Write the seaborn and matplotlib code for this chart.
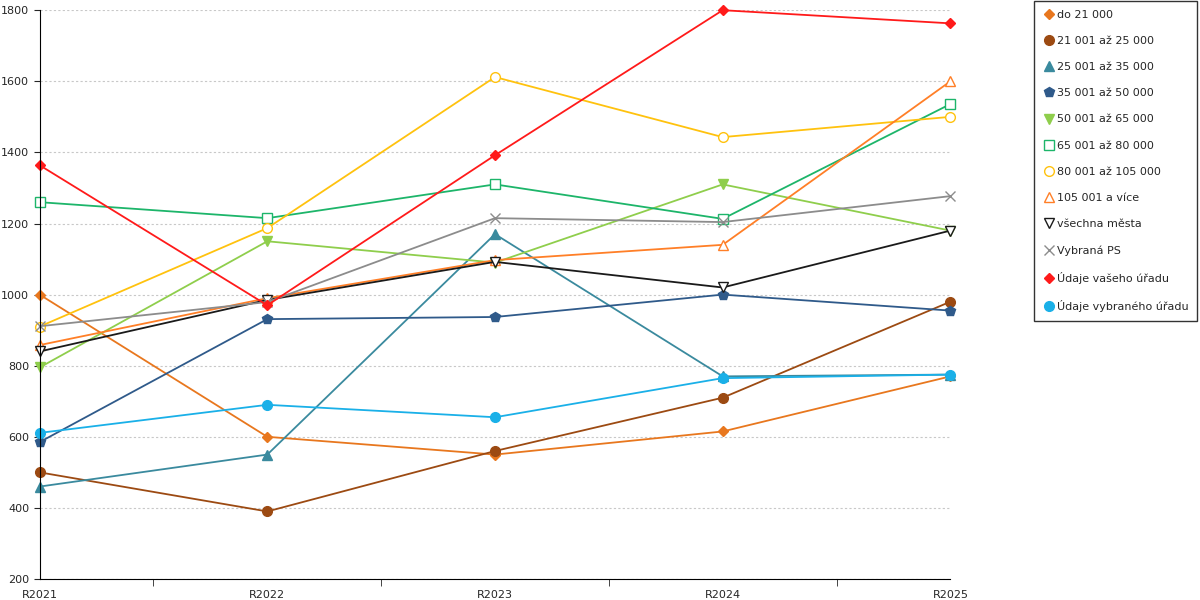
import matplotlib
matplotlib.use("Agg")
import matplotlib.pyplot as plt
import seaborn as sns
import pandas as pd
from matplotlib.lines import Line2D

years = ["R2021", "R2022", "R2023", "R2024", "R2025"]
names = ["do 21 000", "21 001 až 25 000", "25 001 až 35 000", "35 001 až 50 000",
         "50 001 až 65 000", "65 001 až 80 000", "80 001 až 105 000", "105 001 a více",
         "všechna města", "Vybraná PS", "Údaje vašeho úřadu", "Údaje vybraného úřadu"]
v_do21 = [1000, 600, 550, 615, 770]
v_21_25 = [500, 390, 560, 710, 980]
v_25_35 = [460, 550, 1170, 770, 775]
v_35_50 = [585, 931, 937, 1000, 955]
v_50_65 = [795, 1150, 1090, 1310, 1180]
v_65_80 = [1260, 1215, 1310, 1213, 1536]
v_80_105 = [910, 1187, 1612, 1443, 1500]
v_105 = [858, 990, 1097, 1140, 1600]
v_all = [840, 985, 1092, 1020, 1180]
v_ps = [911, 979, 1215, 1204, 1277]
v_vas = [1364, 970, 1392, 1800, 1763]
v_vybr = [611, 690, 655, 765, 775]
series = [v_do21, v_21_25, v_25_35, v_35_50, v_50_65, v_65_80, v_80_105, v_105, v_all, v_ps, v_vas, v_vybr]

colors = ["#e8771e", "#9c4a12", "#3a8a9e", "#2f5a8a", "#8fce4c", "#1db56a", "#ffc20e",
          "#ff7f27", "#1a1a1a", "#8c8c8c", "#ff1a1a", "#1ab0e8"]
markers = ["D", "o", "^", "p", "v", "s", "o", "^", "v", "x", "D", "o"]
hollow = [False, False, False, False, False, True, True, True, True, False, False, False]
sizes = [5, 7, 7, 7, 7, 7, 7, 7, 7, 7, 5, 7]

rows = []
for n, vals in zip(names, series):
    for y, v in zip(years, vals):
        rows.append({"year": y, "value": v, "series": n})
df = pd.DataFrame(rows)

sns.set_style("white")
fig = plt.figure(figsize=(12, 6), dpi=100)
ax = fig.add_axes([0.033, 0.035, 0.759, 0.948])
handles = []
for i, n in enumerate(names):
    d = df[df.series == n]
    mfc = "white" if hollow[i] else colors[i]
    sns.lineplot(data=d, x="year", y="value", ax=ax, color=colors[i], lw=1.3,
                 marker=markers[i], markersize=sizes[i], markerfacecolor=mfc,
                 markeredgecolor=colors[i], markeredgewidth=1.0, sort=False, clip_on=False)
    handles.append(Line2D([], [], ls="none", marker=markers[i], color=colors[i],
                          markerfacecolor=mfc, markeredgecolor=colors[i], markersize=sizes[i]))

ax.set_ylim(200, 1800)
ax.set_xlim(0, 4)
ax.set_yticks(range(200, 1801, 200))
ax.set_xlabel("")
ax.set_ylabel("")
ax.yaxis.grid(True, ls=(0, (2, 2)), color="#c8c8c8", lw=0.8)
for s in ["top", "right"]:
    ax.spines[s].set_visible(False)
for s in ["left", "bottom"]:
    ax.spines[s].set_color("black")
ax.set_xticks([0.5, 1.5, 2.5, 3.5], minor=True)
ax.tick_params(axis="x", which="major", length=0, labelsize=8, pad=8)
ax.tick_params(axis="x", which="minor", length=5, direction="out", bottom=True)
ax.tick_params(axis="y", labelsize=8, length=4, left=True)

leg = fig.legend(handles, names, loc="upper left", bbox_to_anchor=(0.861, 1.0),
                 frameon=True, fontsize=8, labelspacing=1.45, handletextpad=0.2,
                 handlelength=1.0, borderpad=0.8, borderaxespad=0.1, fancybox=False)
leg.get_frame().set_edgecolor("black")
fig.savefig("out.png", dpi=100)
